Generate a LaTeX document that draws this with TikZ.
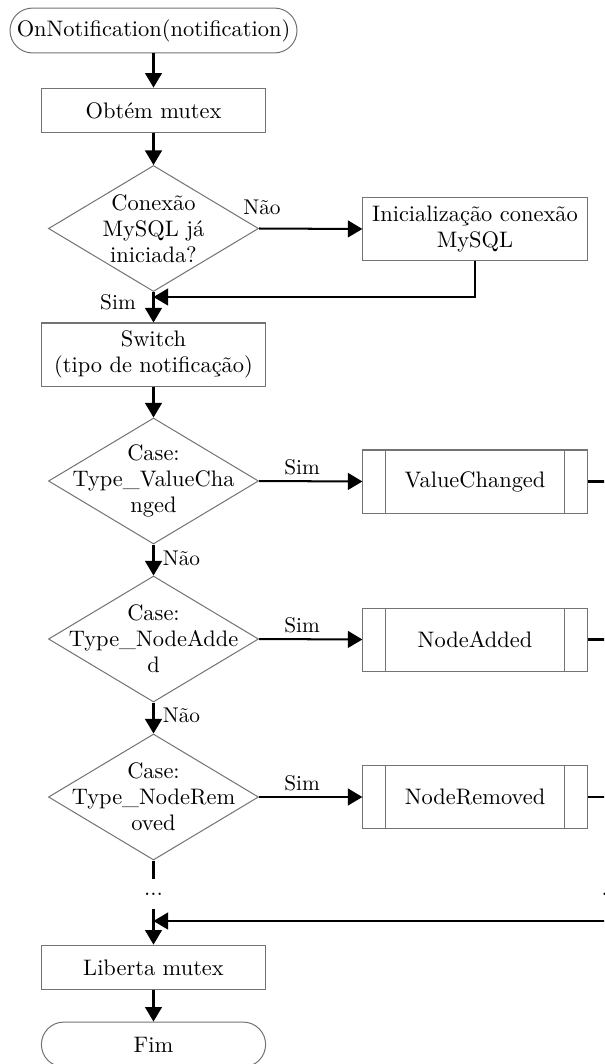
\documentclass[tikz,border=0pt]{standalone}
\usepackage{fontspec}
\usepackage{tikz}
\usetikzlibrary{shapes.geometric, arrows.meta}
\tikzset{
    base/.style={draw=black!55, line width=0.45pt, align=center, inner sep=0pt,
        font=\fontsize{10}{11.6}\selectfont},
    terminal/.style={base, rectangle, rounded corners=10pt, minimum width=#1, minimum height=20pt},
    terminal/.default=100pt,
    process/.style={base, rectangle, minimum width=100pt, minimum height=#1},
    process/.default=20pt,
    decision/.style={base, diamond, minimum width=93.7pt, minimum height=56.2pt},
    subproc/.style={process=28.1pt,
        path picture={
            \draw[black!55, line width=0.45pt]
                ([xshift=10.3pt]path picture bounding box.north west) -- ([xshift=10.3pt]path picture bounding box.south west)
                ([xshift=-10.3pt]path picture bounding box.north east) -- ([xshift=-10.3pt]path picture bounding box.south east);
        }},
    caption/.style={align=center, inner sep=0pt, font=\fontsize{10}{11.6}\selectfont},
    answer/.style={inner sep=0pt, font=\fontsize{9.5}{11}\selectfont},
    flow/.style={line width=0.9pt, -{Triangle[length=6.5pt,width=7.5pt]}},
    wire/.style={line width=0.9pt}
}

\begin{document}
\begin{tikzpicture}[x=0.446pt, y=-0.446pt]
    \useasboundingbox (0,0) rectangle (604,1064);
    \clip (0,0) rectangle (604,1064);

    % main column
    \node[terminal=128pt] (start) at (153.5,30.5) {OnNotification(notification)};
    \node[process] (lock) at (153.5,110.5) {Obtém mutex};
    \node[decision] (conn) at (153.5,228.5) {};
    \node[caption] (connq) at (conn) {Conexão\\MySQL já\\iniciada?};
    \node[process=27.7pt] (init) at (475,229) {Inicialização conexão\\MySQL};
    \coordinate (join1) at (153.5,297);
    \node[process=28.1pt] (switch) at (153.5,354.5) {Switch\\(tipo de notificação)};

    \node[decision] (vchg) at (153.5,481) {};
    \node[caption] (vchgq) at (vchg) {Case:\\Type\_ValueCha\\nged};
    \node[subproc] (vchgp) at (475,481.5) {ValueChanged};

    \node[decision] (nadd) at (153.5,639) {};
    \node[caption] (naddq) at (nadd) {Case:\\Type\_NodeAdde\\d};
    \node[subproc] (naddp) at (475,639.5) {NodeAdded};

    \node[decision] (nrem) at (153.5,797) {};
    \node[caption] (nremq) at (nrem) {Case:\\Type\_NodeRem\\oved};
    \node[subproc] (nremp) at (475,797) {NodeRemoved};

    \node[caption, minimum height=13.4pt] (dots) at (153.5,894) {...};
    \node[caption] (rdots) at (611,894) {...};
    \coordinate (join2) at (153.5,921);
    \coordinate (bus) at (640,921);
    \node[process] (free) at (153.5,967.5) {Liberta mutex};
    \node[terminal] (stop) at (153.5,1044.5) {Fim};

    % labels
    \node[answer] (no1) at (262,207) {Não};
    \node[answer] (yes1) at (118,302) {Sim};
    \node[answer] (yes2) at (302,467) {Sim};
    \node[answer] (no2) at (181.5,558) {Não};
    \node[answer] (yes3) at (302,625) {Sim};
    \node[answer] (no3) at (181.5,715) {Não};
    \node[answer] (yes4) at (302,783) {Sim};

    % connectors
    \draw[flow] (start) -- (lock);
    \draw[flow] (lock) -- (conn);
    \draw[flow] (conn.east) -- (init.west);
    \draw[flow] (init.south) |- (join1);
    \draw[flow] (conn.south) -- (switch.north);
    \draw[flow] (switch) -- (vchg);
    \draw[flow] (vchg.east) -- (vchgp.west);
    \draw[flow] (vchg.south) -- (nadd.north);
    \draw[flow] (nadd.east) -- (naddp.west);
    \draw[flow] (nadd.south) -- (nrem.north);
    \draw[flow] (nrem.east) -- (nremp.west);
    \draw[wire] (vchgp.east) -- (vchgp.east -| bus);
    \draw[wire] (naddp.east) -- (naddp.east -| bus);
    \draw[wire] (nremp.east) -- (nremp.east -| bus);
    \draw[wire] (vchgp.east -| bus) -- (bus);
    \draw[wire] (nrem.south) -- (dots.north);
    \draw[flow] (dots.south) -- (free.north);
    \draw[flow] (bus) -- (join2);
    \draw[flow] (free) -- (stop);
\end{tikzpicture}
\end{document}
